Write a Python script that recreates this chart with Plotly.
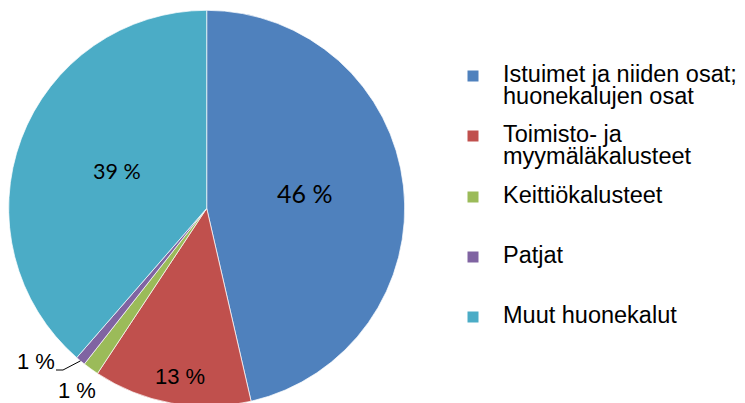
import math
import plotly.graph_objects as go

# Data
categories = [
    ["Istuimet ja niiden osat;", "huonekalujen osat"],
    ["Toimisto- ja", "myymäläkalusteet"],
    ["Keittiökalusteet"],
    ["Patjat"],
    ["Muut huonekalut"],
]
shares = [46.4, 12.9, 1.3, 0.8, 38.6]
colors = ["#4F81BD", "#C0504D", "#9BBB59", "#8064A2", "#4BACC6"]

# Layout (pixels of the page; the page body adds an 8px margin)
W, H = 745, 403
OFF = 8
cx, cy, R = 206.7, 208.3, 198.0

# Percent label styling per slice
label_r = [0.50, 0.86, 1.13, 1.16, 0.49]          # fraction of radius
label_shift = [-2.4, -1.3, -0.3, 8.4, 2.1]         # degrees off the slice middle
label_font = [("Lato", 25), ("Liberation Sans, Arial", 22),
              ("Liberation Sans, Arial", 22), ("Liberation Sans, Arial", 22),
              ("Lato", 21.5)]

# Legend placement
legend_x, legend_text_x = 473, 501
legend_y = [76, 136, 197, 257, 317]
legend_sq = 11
line_gap = 22.7


def px(x, y):
    return (x - OFF) / W, 1 - (y - OFF) / H


fig = go.Figure()
fig.add_trace(go.Pie(
    labels=[" ".join(c) for c in categories],
    values=shares,
    sort=False,
    direction="clockwise",
    rotation=0,
    marker=dict(colors=colors, line=dict(color="white", width=0.7)),
    textinfo="none",
    hoverinfo="label+percent",
    showlegend=False,
    domain=dict(x=[(cx - R - OFF) / W, (cx + R - OFF) / W],
                y=[(H - (cy - OFF) - R) / H, (H - (cy - OFF) + R) / H]),
))

annotations = []
shapes = []
total = sum(shares)
cum = 0.0
mids = []
for i, v in enumerate(shares):
    mid = (cum + v / 2) / total * 360
    mids.append(mid)
    cum += v
    ang = math.radians(mid + label_shift[i])
    lx = cx + label_r[i] * R * math.sin(ang)
    ly = cy - label_r[i] * R * math.cos(ang)
    fam, size = label_font[i]
    x, y = px(lx, ly)
    annotations.append(dict(
        x=x, y=y, xref="paper", yref="paper", showarrow=False,
        text=f"{round(v)} %", xanchor="center", yanchor="middle",
        font=dict(family=fam, size=size, color="black"),
    ))

# leader line for the purple slice label
a = math.radians(mids[3])
ex, ey = cx + R * math.sin(a), cy - R * math.cos(a)
pts = [px(ex, ey), px(63, 370), px(56, 370)]
path = "M " + " L ".join(f"{p[0]},{p[1]}" for p in pts)
shapes.append(dict(type="path", xref="paper", yref="paper", path=path,
                   line=dict(color="black", width=1)))

# legend
for i, lines in enumerate(categories):
    yc = legend_y[i]
    x0, y0 = px(legend_x - legend_sq / 2, yc - legend_sq / 2)
    x1, y1 = px(legend_x + legend_sq / 2, yc + legend_sq / 2)
    shapes.append(dict(type="rect", xref="paper", yref="paper",
                       x0=x0, x1=x1, y0=y1, y1=y0,
                       fillcolor=colors[i], line=dict(width=0)))
    for j, line in enumerate(lines):
        tx, ty = px(legend_text_x, yc - 2.5 + j * line_gap)
        annotations.append(dict(
            x=tx, y=ty, xref="paper", yref="paper", showarrow=False,
            text=line, xanchor="left", yanchor="middle",
            font=dict(family="Liberation Sans, Arial", size=23.5, color="black"),
        ))

fig.update_layout(
    width=W, height=H,
    margin=dict(l=0, r=0, t=0, b=0),
    paper_bgcolor="white",
    plot_bgcolor="white",
    annotations=annotations,
    shapes=shapes,
)

fig.write_html("out.html")
